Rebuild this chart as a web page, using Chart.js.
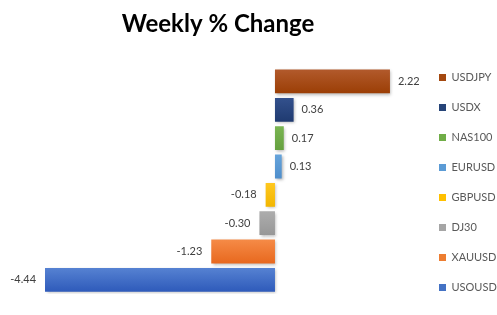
<!DOCTYPE html>
<html>
<head>
<meta charset="utf-8">
<script src="https://cdn.jsdelivr.net/npm/chart.js@4/dist/chart.umd.min.js"></script>
<style>
html,body{margin:0;padding:0;background:#fff;}
#wrap{width:497px;height:315px;position:relative;}
</style>
</head>
<body>
<div id="wrap"><canvas id="c" width="497" height="315"></canvas></div>
<script>
const categories = ['USDJPY','USDX','NAS100','EURUSD','GBPUSD','DJ30','XAUUSD','USOUSD'];
const values = [2.22, 0.36, 0.17, 0.13, -0.18, -0.30, -1.23, -4.44];
const valueLabels = ['2.22','0.36','0.17','0.13','-0.18','-0.30','-1.23','-4.44'];
const topColors = ['#B25A2C','#33518D','#7AB552','#66A4DB','#FFC820','#ADADAD','#F58B47','#5682D2'];
const bottomColors = ['#9B3E05','#1F3A70','#65A03F','#4E8ECC','#F2B600','#979797','#E8681E','#2E5ABA'];
const legendColors = ['#A4480F','#264478','#70AD47','#5B9BD5','#FFC000','#A5A5A5','#ED7D31','#4472C4'];

function barFill(ctx){
  const chart = ctx.chart;
  const i = ctx.dataIndex;
  if (!chart.chartArea || i === undefined) return legendColors[i] || '#888';
  const ys = chart.scales.y;
  const yc = ys.getPixelForValue(i);
  const half = 12;
  const g = chart.ctx.createLinearGradient(0, yc - half, 0, yc + half);
  g.addColorStop(0, topColors[i]);
  g.addColorStop(1, bottomColors[i]);
  return g;
}

const shadowPlugin = {
  id: 'barShadow',
  beforeDatasetDraw(chart){
    const c = chart.ctx;
    c.save();
    c.shadowColor = 'rgba(0,0,0,0.28)';
    c.shadowBlur = 3;
    c.shadowOffsetX = 1.5;
    c.shadowOffsetY = 1.5;
  },
  afterDatasetDraw(chart){
    chart.ctx.restore();
  }
};

const labelPlugin = {
  id: 'valueLabels',
  afterDatasetsDraw(chart){
    const c = chart.ctx;
    const meta = chart.getDatasetMeta(0);
    c.save();
    c.font = '11px Lato, "Open Sans", sans-serif';
    c.fillStyle = '#404040';
    c.textBaseline = 'middle';
    meta.data.forEach((bar, i) => {
      const v = values[i];
      if (v >= 0) {
        c.textAlign = 'left';
        c.fillText(valueLabels[i], bar.x + 8, bar.y);
      } else {
        c.textAlign = 'right';
        c.fillText(valueLabels[i], bar.x - 9, bar.y);
      }
    });
    c.restore();
  }
};

new Chart(document.getElementById('c'), {
  type: 'bar',
  data: {
    labels: categories,
    datasets: [{
      label: 'Weekly % Change',
      data: values,
      backgroundColor: barFill,
      borderWidth: 0,
      barPercentage: 0.84,
      categoryPercentage: 1.0
    }]
  },
  options: {
    indexAxis: 'y',
    responsive: false,
    animation: false,
    devicePixelRatio: 1,
    layout: { padding: { top: 0, bottom: 0, left: 16, right: 0 } },
    scales: {
      x: { display: false, min: -5, max: 2.8, grid: { display: false } },
      y: { display: false, grid: { display: false } }
    },
    plugins: {
      tooltip: { enabled: false },
      title: {
        display: true,
        text: 'Weekly % Change',
        fullSize: false,
        color: '#000000',
        font: { family: 'Lato, "Open Sans", sans-serif', size: 24, weight: 'bold', lineHeight: 1.2 },
        padding: { top: 10, bottom: 28.5 }
      },
      subtitle: {
        display: true,
        position: 'bottom',
        fullSize: false,
        text: ' ',
        font: { size: 1, lineHeight: 1 },
        padding: { top: 10, bottom: 10 }
      },
      legend: {
        display: true,
        position: 'right',
        fullSize: true,
        maxWidth: 77,
        title: { display: true, text: ' ', font: { size: 1, lineHeight: 1 }, padding: { top: 24, bottom: 25 } },
        labels: {
          boxWidth: 7,
          boxHeight: 7,
          padding: 19,
          color: '#595959',
          font: { family: 'Lato, "Open Sans", sans-serif', size: 11 },
          generateLabels(chart){
            return chart.data.labels.map((l, i) => ({
              text: l,
              fillStyle: legendColors[i],
              strokeStyle: legendColors[i],
              lineWidth: 0,
              hidden: false,
              index: i,
              fontColor: '#595959'
            }));
          }
        },
        onClick: null
      }
    }
  },
  plugins: [shadowPlugin, labelPlugin]
});
</script>
</body>
</html>
